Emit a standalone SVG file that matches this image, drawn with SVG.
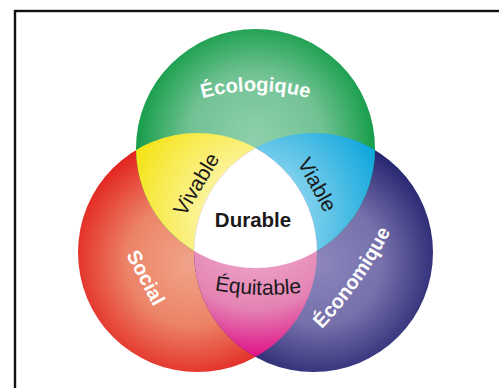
<svg xmlns="http://www.w3.org/2000/svg" width="499" height="388" viewBox="0 0 499 388">
<defs>
<style>
.lbl{font-family:"Liberation Sans",Arial,sans-serif;font-size:20px}
.w{fill:#ffffff;font-weight:bold}
.k{fill:#1a1a1a;font-size:21px}
.b{font-weight:bold;font-size:20.5px}
</style>
<radialGradient id="gG" cx="255.5" cy="140" r="121" gradientUnits="userSpaceOnUse">
<stop offset="0" stop-color="#8fd0ac"/><stop offset="0.55" stop-color="#72c294"/><stop offset="1" stop-color="#129c47"/>
</radialGradient>
<radialGradient id="gR" cx="190" cy="262" r="125" gradientUnits="userSpaceOnUse">
<stop offset="0" stop-color="#f0a48a"/><stop offset="0.5" stop-color="#ec8468"/><stop offset="1" stop-color="#e2201c"/>
</radialGradient>
<radialGradient id="gB" cx="320" cy="262" r="125" gradientUnits="userSpaceOnUse">
<stop offset="0" stop-color="#8c86bc"/><stop offset="0.5" stop-color="#7670ab"/><stop offset="1" stop-color="#24246f"/>
</radialGradient>
<radialGradient id="gY" cx="255.5" cy="218" r="140" gradientUnits="userSpaceOnUse">
<stop offset="0.35" stop-color="#fcf4a0"/><stop offset="0.6" stop-color="#f9ee6a"/><stop offset="1" stop-color="#f5e20c"/>
</radialGradient>
<radialGradient id="gC" cx="255.5" cy="218" r="140" gradientUnits="userSpaceOnUse">
<stop offset="0.35" stop-color="#82d2ee"/><stop offset="0.6" stop-color="#55c0e6"/><stop offset="1" stop-color="#08a4dc"/>
</radialGradient>
<radialGradient id="gP" cx="255.5" cy="218" r="140" gradientUnits="userSpaceOnUse">
<stop offset="0.35" stop-color="#eb9cc4"/><stop offset="0.65" stop-color="#e483b3"/><stop offset="1" stop-color="#df0e86"/>
</radialGradient>
<clipPath id="cG"><circle cx="255.5" cy="148.5" r="119.5"/></clipPath>
<clipPath id="cR"><circle cx="197.5" cy="252.5" r="119.5"/></clipPath>
<path id="pEco" d="M55.5 291 A200 200 0 0 1 455.5 291"/>
<path id="pEqu" d="M198 287 Q262 301 318 290"/>
<path id="pEcon" d="M312 339 Q364 288 397 219"/>
</defs>
<rect x="15" y="11" width="520" height="420" fill="#ffffff" stroke="#111111" stroke-width="2.4"/>
<g id="social">
<circle cx="197.5" cy="252.5" r="119.5" fill="url(#gR)"/>
</g>
<g id="economique">
<circle cx="313.5" cy="252.5" r="119.5" fill="url(#gB)"/>
</g>
<g id="ecologique">
<circle cx="255.5" cy="148.5" r="119.5" fill="url(#gG)"/>
</g>
<g id="vivable">
<circle cx="197.5" cy="252.5" r="119.5" fill="url(#gY)" clip-path="url(#cG)"/>
</g>
<g id="viable">
<circle cx="313.5" cy="252.5" r="119.5" fill="url(#gC)" clip-path="url(#cG)"/>
</g>
<g id="equitable">
<circle cx="313.5" cy="252.5" r="119.5" fill="url(#gP)" clip-path="url(#cR)"/>
</g>
<g id="durable">
<g clip-path="url(#cG)"><circle cx="313.5" cy="252.5" r="119.5" fill="#ffffff" clip-path="url(#cR)"/></g>
</g>
<g id="labels">
<text class="lbl w"><textPath href="#pEco" startOffset="50%" text-anchor="middle">Écologique</textPath></text>
<text class="lbl w" transform="translate(146,277.5) rotate(62)" x="0" y="7" text-anchor="middle">Social</text>
<text class="lbl w"><textPath href="#pEcon" startOffset="50%" text-anchor="middle">Économique</textPath></text>
<text class="lbl k" transform="translate(196,184) rotate(-59)" x="0" y="7.5" text-anchor="middle">Vivable</text>
<text class="lbl k" transform="translate(317.5,184.5) rotate(61)" x="0" y="7.5" text-anchor="middle">Viable</text>
<text class="lbl k b" x="253" y="227" text-anchor="middle">Durable</text>
<text class="lbl k"><textPath href="#pEqu" startOffset="50%" text-anchor="middle">Équitable</textPath></text>
</g>
</svg>
